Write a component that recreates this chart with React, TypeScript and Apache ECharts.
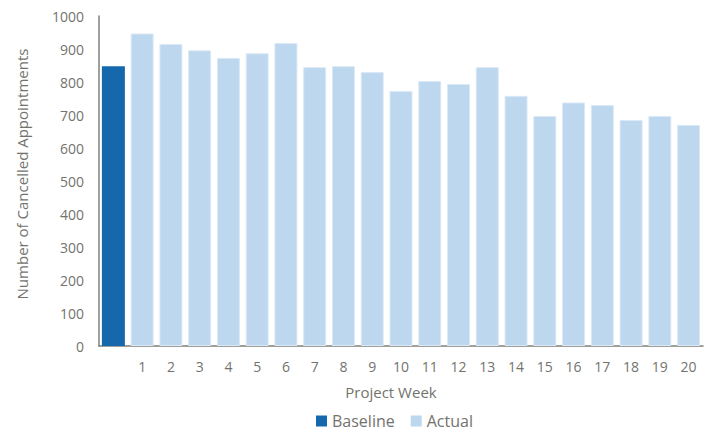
import React, { useEffect, useRef } from "react";
import * as echarts from "echarts";

const categories = ["", "1", "2", "3", "4", "5", "6", "7", "8", "9", "10", "11", "12", "13", "14", "15", "16", "17", "18", "19", "20"];
const baselineValues = [848, null, null, null, null, null, null, null, null, null, null, null, null, null, null, null, null, null, null, null, null];
const actualValues = [null, 947, 915, 896, 873, 887, 918, 845, 848, 830, 773, 803, 794, 845, 758, 697, 738, 730, 685, 697, 670];
const yTicks = { min: 0, max: 1000, interval: 100 };

const FONT = "'Open Sans', 'Noto Sans', sans-serif";
const TEXT = "#73736e";

export default function App() {
  const ref = useRef<HTMLDivElement>(null);
  useEffect(() => {
    const chart = echarts.init(ref.current!, undefined, { renderer: "svg" });
    chart.setOption({
      animation: false,
      textStyle: { fontFamily: FONT },
      grid: { left: 99, right: 7, top: 16, bottom: 87, containLabel: false },
      legend: {
        top: 408,
        left: 311,
        itemWidth: 11,
        itemHeight: 11,
        itemGap: 16,
        icon: "rect",
        itemStyle: { borderWidth: 0 },
        textStyle: { fontFamily: FONT, fontSize: 16, color: TEXT },
        data: ["Baseline", "Actual"],
      },
      xAxis: {
        type: "category",
        data: categories,
        name: "Project Week",
        nameLocation: "middle",
        nameGap: 38,
        nameTextStyle: { fontFamily: FONT, fontSize: 15, color: TEXT, padding: [0, 20, 0, 0] },
        axisLine: { lineStyle: { color: "#7f7f7a", width: 1.5 } },
        axisTick: { show: false },
        axisLabel: { fontFamily: FONT, fontSize: 14, color: TEXT, margin: 13 },
      },
      yAxis: {
        type: "value",
        min: yTicks.min,
        max: yTicks.max,
        interval: yTicks.interval,
        name: "Number of Cancelled Appointments",
        nameLocation: "middle",
        nameGap: 70,
        nameTextStyle: { fontFamily: FONT, fontSize: 15, color: TEXT, padding: [0, 0, 0, 14] },
        axisLine: { show: true, lineStyle: { color: "#7f7f7a", width: 1.5 } },
        axisTick: { show: false },
        splitLine: { show: false },
        axisLabel: { fontFamily: FONT, fontSize: 14, color: TEXT, margin: 15, formatter: (v: number) => String(v) },
      },
      series: [
        {
          name: "Baseline",
          type: "bar",
          stack: "s",
          data: baselineValues,
          barWidth: 23,
          itemStyle: { color: "#1468ab" },
        },
        {
          name: "Actual",
          type: "bar",
          stack: "s",
          data: actualValues,
          barWidth: 23,
          itemStyle: { color: "#bdd7ee", borderColor: "#dbe9f6", borderWidth: 1 },
        },
      ],
    });
    return () => chart.dispose();
  }, []);
  return <div ref={ref} style={{ width: 710, height: 433, position: "absolute", left: 0, top: 0 }} />;
}
